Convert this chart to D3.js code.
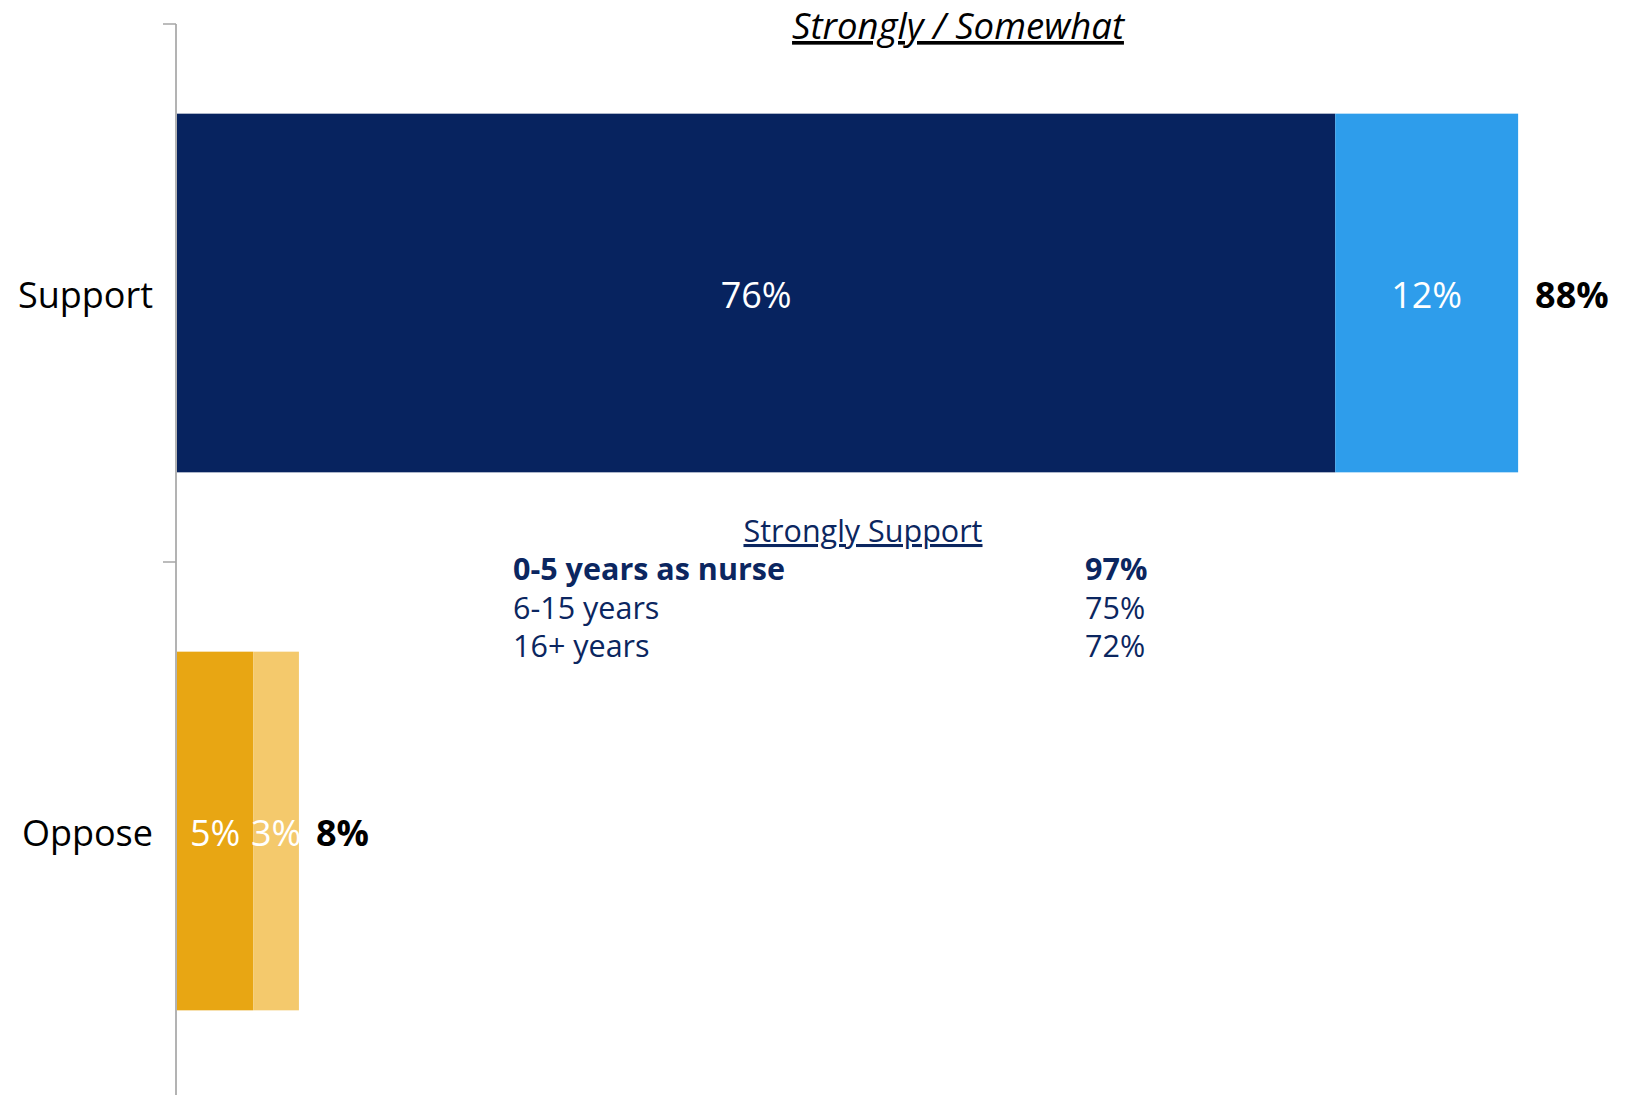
<!DOCTYPE html>
<html>
<head>
<meta charset="utf-8">
<script src="https://cdn.jsdelivr.net/npm/d3@7"></script>
<style>
  html, body { margin: 0; padding: 0; background: #fff; }
  svg { display: block; font-family: "Segoe UI", "Open Sans", "Noto Sans", sans-serif; }
</style>
</head>
<body>
<svg id="chart" width="1628" height="1095"></svg>
<script>
// Stacked horizontal bars: strongly + somewhat, with the net total at the end
const categories = ["Support", "Oppose"];
const stronglyValues = [76, 5];
const somewhatValues = [12, 3];
const netValues = [88, 8];
const stronglyColors = ["#07235F", "#E8A613"];
const somewhatColors = ["#2E9DEB", "#F4C96C"];

// Inset breakdown of "Strongly Support" by years as a nurse
const tenureLabels = ["0-5 years as nurse", "6-15 years", "16+ years"];
const tenureStrongly = [97, 75, 72];

const svg = d3.select("#chart");
const axisX = 176;

const x = d3.scaleLinear().domain([0, 100]).range([axisX + 1, axisX + 1 + 1524]);
const y = d3.scaleBand()
  .domain(categories)
  .range([24, 1100])
  .paddingInner(1 / 3)
  .paddingOuter(1 / 6);

const rows = categories.map((c, i) => ({
  cat: c,
  strong: stronglyValues[i],
  some: somewhatValues[i],
  net: netValues[i],
  c1: stronglyColors[i],
  c2: somewhatColors[i]
}));

const g = svg.append("g");

// strongly segment
g.selectAll("rect.strong").data(rows).join("rect")
  .attr("class", "strong")
  .attr("x", x(0))
  .attr("y", d => y(d.cat))
  .attr("width", d => x(d.strong) - x(0))
  .attr("height", y.bandwidth())
  .attr("fill", d => d.c1);

// somewhat segment
g.selectAll("rect.some").data(rows).join("rect")
  .attr("class", "some")
  .attr("x", d => x(d.strong))
  .attr("y", d => y(d.cat))
  .attr("width", d => x(d.strong + d.some) - x(d.strong))
  .attr("height", y.bandwidth())
  .attr("fill", d => d.c2);

const labelSize = 36;
const labelDy = "0.43em";

// segment labels
g.selectAll("text.strongLbl").data(rows).join("text")
  .attr("x", d => (x(0) + x(d.strong)) / 2)
  .attr("y", d => y(d.cat) + y.bandwidth() / 2)
  .attr("dy", labelDy)
  .attr("text-anchor", "middle")
  .attr("fill", "#fff")
  .style("font-size", labelSize + "px")
  .text(d => d.strong + "%");

g.selectAll("text.someLbl").data(rows).join("text")
  .attr("x", d => (x(d.strong) + x(d.strong + d.some)) / 2)
  .attr("y", d => y(d.cat) + y.bandwidth() / 2)
  .attr("dy", labelDy)
  .attr("text-anchor", "middle")
  .attr("fill", "#fff")
  .style("font-size", labelSize + "px")
  .text(d => d.some + "%");

// net totals
g.selectAll("text.netLbl").data(rows).join("text")
  .attr("x", d => x(d.net) + 17)
  .attr("y", d => y(d.cat) + y.bandwidth() / 2)
  .attr("dy", labelDy)
  .attr("fill", "#000")
  .style("font-size", labelSize + "px")
  .style("font-weight", "bold")
  .text(d => d.net + "%");

// category axis with ticks between categories
const axisG = svg.append("g");
const [r0, r1] = y.range();
axisG.append("line")
  .attr("x1", axisX).attr("x2", axisX)
  .attr("y1", r0).attr("y2", r1)
  .attr("stroke", "#9a9a9a").attr("stroke-width", 1.5);
const tickYs = [r0, (r0 + r1) / 2, r1];
axisG.selectAll("line.tick").data(tickYs).join("line")
  .attr("x1", axisX - 13).attr("x2", axisX)
  .attr("y1", d => d).attr("y2", d => d)
  .attr("stroke", "#a6a6a6").attr("stroke-width", 1.5);

axisG.selectAll("text.cat").data(categories).join("text")
  .attr("x", axisX - 23)
  .attr("y", d => y(d) + y.bandwidth() / 2)
  .attr("dy", labelDy)
  .attr("text-anchor", "end")
  .attr("fill", "#000")
  .style("font-size", labelSize + "px")
  .text(d => d);

// heading
svg.append("text")
  .attr("x", 958)
  .attr("y", 39)
  .attr("text-anchor", "middle")
  .attr("fill", "#000")
  .style("font-size", "36.5px")
  .style("font-style", "italic")
  .style("text-decoration", "underline")
  .text("Strongly / Somewhat");

// inset
const navy = "#0B2660";
const inset = svg.append("g");
inset.append("text")
  .attr("x", 863)
  .attr("y", 542)
  .attr("text-anchor", "middle")
  .attr("fill", navy)
  .style("font-size", "30.5px")
  .style("text-decoration", "underline")
  .text("Strongly Support");

const rowY = d3.scalePoint().domain(tenureLabels).range([580, 657]);
inset.selectAll("text.tl").data(tenureLabels).join("text")
  .attr("x", 513)
  .attr("y", d => rowY(d))
  .attr("fill", navy)
  .style("font-size", "30.5px")
  .style("font-weight", (d, i) => i === 0 ? "bold" : "normal")
  .text(d => d);
inset.selectAll("text.tv").data(tenureLabels).join("text")
  .attr("x", 1085)
  .attr("y", d => rowY(d))
  .attr("fill", navy)
  .style("font-size", "30.5px")
  .style("font-weight", (d, i) => i === 0 ? "bold" : "normal")
  .text((d, i) => tenureStrongly[i] + "%");
</script>
</body>
</html>
